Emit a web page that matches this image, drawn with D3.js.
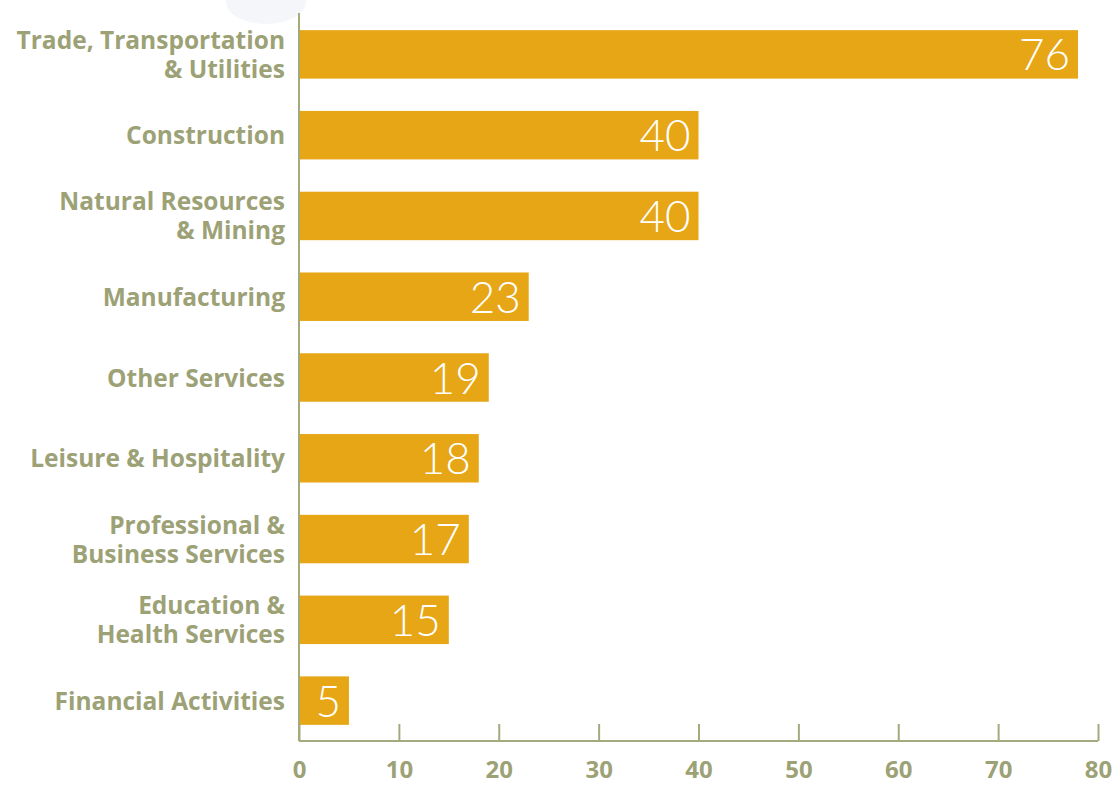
<!DOCTYPE html>
<html>
<head>
<meta charset="utf-8">
<script src="https://cdn.jsdelivr.net/npm/d3@7"></script>
<style>
  body { margin: 0; background: #fff; }
  svg { display: block; }
</style>
</head>
<body>
<script>
const width = 1119;
const height = 785;

// Data
const categories = [
  ["Trade, Transportation", "& Utilities"],
  ["Construction"],
  ["Natural Resources", "& Mining"],
  ["Manufacturing"],
  ["Other Services"],
  ["Leisure & Hospitality"],
  ["Professional &", "Business Services"],
  ["Education &", "Health Services"],
  ["Financial Activities"]
];
const barValues = [78, 40, 40, 23, 19, 18, 17, 15, 5];
const valueLabels = ["76", "40", "40", "23", "19", "18", "17", "15", "5"];
const xTicks = [0, 10, 20, 30, 40, 50, 60, 70, 80];

const barColor = "#e6a615";
const axisColor = "#a4aa7e";
const labelColor = "#9ca176";
const labelFont = "'Open Sans', sans-serif";

const margin = { left: 299, right: 21, top: 14, bottom: 44 };

const svg = d3.select("body").append("svg")
  .attr("width", width)
  .attr("height", height);

// faint blob behind the top of the axis
svg.append("ellipse")
  .attr("cx", 266).attr("cy", 2)
  .attr("rx", 40).attr("ry", 22)
  .attr("fill", "#f4f6fa");

const x = d3.scaleLinear()
  .domain([0, 80])
  .range([margin.left, width - margin.right]);

const y = d3.scaleBand()
  .domain(d3.range(categories.length))
  .range([margin.top, height - margin.bottom])
  .paddingInner(0.4)
  .paddingOuter(0.2);

// bars
svg.selectAll(".bar")
  .data(barValues)
  .enter()
  .append("rect")
  .attr("class", "bar")
  .attr("x", x(0))
  .attr("y", (d, i) => y(i))
  .attr("width", d => x(d) - x(0))
  .attr("height", y.bandwidth())
  .attr("fill", barColor);

// value labels inside bars
svg.selectAll(".val")
  .data(barValues)
  .enter()
  .append("text")
  .attr("class", "val")
  .attr("x", d => x(d) - 8)
  .attr("y", (d, i) => y(i) + y.bandwidth() / 2 + 16)
  .attr("text-anchor", "end")
  .style("font-family", "Lato, sans-serif")
  .style("font-weight", 300)
  .style("font-size", "44px")
  .attr("fill", "#fff")
  .text((d, i) => valueLabels[i]);

// category labels
const lineH = 29;
svg.selectAll(".cat")
  .data(categories)
  .enter()
  .append("text")
  .attr("class", "cat")
  .attr("text-anchor", "end")
  .style("font-family", labelFont)
  .style("font-weight", 700)
  .style("font-size", "24.5px")
  .attr("fill", labelColor)
  .each(function(lines, i) {
    const cy = y(i) + y.bandwidth() / 2;
    const first = cy - (lines.length - 1) * lineH / 2 + 9;
    d3.select(this).selectAll("tspan")
      .data(lines)
      .enter()
      .append("tspan")
      .attr("x", 285)
      .attr("y", (l, j) => first + j * lineH)
      .text(l => l);
  });

// x axis
const axisY = height - margin.bottom;
const xAxis = svg.append("g")
  .attr("transform", `translate(0,${axisY})`)
  .call(d3.axisBottom(x).tickValues(xTicks).tickSize(-17).tickPadding(20));

xAxis.select(".domain").attr("stroke", axisColor).attr("stroke-width", 2)
  .attr("d", `M${x(0)},0H${x(80)}`);
xAxis.selectAll(".tick line").attr("stroke", axisColor).attr("stroke-width", 2);
xAxis.selectAll(".tick text")
  .attr("fill", labelColor)
  .attr("dy", "0.71em")
  .style("font-family", labelFont)
  .style("font-weight", 700)
  .style("font-size", "24px");

// vertical axis line
svg.append("line")
  .attr("x1", x(0)).attr("x2", x(0))
  .attr("y1", 13).attr("y2", axisY)
  .attr("stroke", axisColor)
  .attr("stroke-width", 2);
</script>
</body>
</html>
